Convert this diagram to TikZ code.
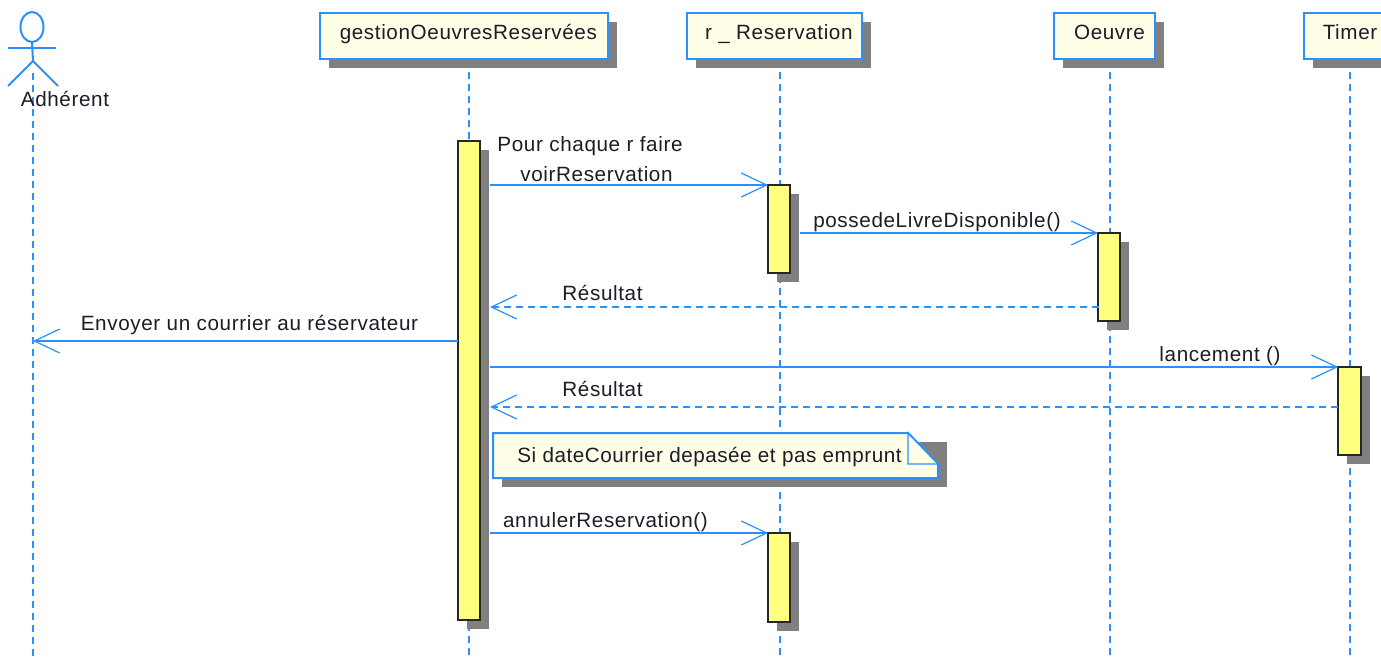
\documentclass[tikz,border=0pt]{standalone}
\usepackage{fontspec}
\setmainfont[LetterSpace=3]{Liberation Sans}
\usetikzlibrary{arrows.meta,shadows,shapes.geometric}
\definecolor{umlblue}{HTML}{2A90FF}
\definecolor{headfill}{HTML}{FFFFE8}
\definecolor{actfill}{HTML}{FFFF80}
\definecolor{shadowgrey}{HTML}{808080}
\definecolor{inkdark}{HTML}{1C1C28}
\newcommand\headtext[2]{\hspace*{#1}\raisebox{-2.6pt}[0pt][0pt]{#2}}
\tikzset{
  x=0.75pt,y=-0.75pt,
  anyshadow/.style={general shadow={shadow xshift=6.75pt,shadow yshift=-6.75pt,fill=shadowgrey}},
  head/.style={draw=umlblue,line width=1.5pt,fill=headfill,anyshadow,minimum height=34.5pt,inner sep=0pt,outer sep=0pt,text=inkdark,font=\fontsize{15.5}{17}\selectfont},
  act/.style={draw=black!85,line width=1.5pt,fill=actfill,anyshadow,minimum width=16.5pt,inner sep=0pt,outer sep=0pt},
  life/.style={draw=umlblue,line width=1.5pt,dash pattern=on 5pt off 4pt},
  msg/.style={draw=umlblue,line width=1.4pt,-{Straight Barb[length=19pt,width=18pt,line width=0.9pt]}},
  reply/.style={msg,dash pattern=on 5.5pt off 3.5pt},
  lbl/.style={text=inkdark,inner sep=0pt,font=\fontsize{15.5}{17}\selectfont},
  actorline/.style={draw=umlblue,line width=1.5pt}
}
\begin{document}
\begin{tikzpicture}
\useasboundingbox (0,0) rectangle (1381,660);
\clip (0,0) rectangle (1381,660);
% lifelines
\coordinate (aStart) at (33,73);   \coordinate (aEnd) at (33,657);
\coordinate (gStart) at (469,72);  \coordinate (gEnd) at (469,657);
\coordinate (rStart) at (780,72);  \coordinate (rEnd) at (780,657);
\coordinate (oStart) at (1110,72); \coordinate (oEnd) at (1110,657);
\coordinate (tStart) at (1350,72); \coordinate (tEnd) at (1350,657);
\draw[life] (aStart) -- (aEnd);
\draw[life] (gStart) -- (gEnd);
\draw[life] (rStart) -- (rEnd);
\draw[life] (oStart) -- (oEnd);
\draw[life] (tStart) -- (tEnd);
% actor
\node[draw=umlblue,line width=1.5pt,ellipse,minimum width=17.25pt,minimum height=22.5pt,inner sep=0pt,outer sep=0pt] (actorHead) at (32,27) {};
\coordinate (armL) at (8,48); \coordinate (armR) at (56,48);
\coordinate (hip) at (33,61); \coordinate (legL) at (8,86); \coordinate (legR) at (58,86);
\draw[actorline] (actorHead.south) -- (hip);
\draw[actorline] (armL) -- (armR);
\draw[actorline] (legL) -- (hip) -- (legR);
\node[lbl] (actorName) at (65,99) {Adhérent};
% heads
\node[head,minimum width=216pt] (gHead) at (464,36) {\headtext{6.5pt}{gestionOeuvresReservées}};
\node[head,minimum width=131.25pt] (rHead) at (774.5,36) {\headtext{6.5pt}{r \_ Reservation}};
\node[head,minimum width=75.75pt] (oHead) at (1104.5,36) {\headtext{7.5pt}{Oeuvre}};
\node[head,minimum width=69pt] (tHead) at (1350,36) {\headtext{0pt}{Timer}};
% activations
\node[act,minimum height=359.25pt] (gAct) at (469,380.5) {};
\node[act,minimum height=66pt] (rAct) at (779,229) {};
\node[act,minimum height=66pt] (oAct) at (1109,277) {};
\node[act,minimum height=66pt,minimum width=17pt] (tAct) at (1349.5,411) {};
\node[act,minimum height=66.75pt] (rAct2) at (779,577.5) {};
% note
\fill[shadowgrey] (502,442) rectangle (947,487);
\draw[draw=umlblue,line width=1.5pt,fill=headfill] (493,433) -- (908,433) -- (938,464) -- (938,478) -- (493,478) -- cycle;
\draw[draw=umlblue,line width=1.1pt,fill=headfill] (908,433) -- (908,464) -- (938,464) -- cycle;
\node[lbl] (noteText) at (709.5,457) {\addfontfeature{LetterSpace=2.5}Si dateCourrier depasée et pas emprunt};
% messages
\coordinate (m1) at (490,185);
\coordinate (m2) at (800,233);
\coordinate (m3) at (1099,307);  \coordinate (m3e) at (490,307);
\coordinate (m4) at (458,341);   \coordinate (m4e) at (33,341);
\coordinate (m5) at (490,367);
\coordinate (m6) at (1338,407);  \coordinate (m6e) at (490,407);
\coordinate (m7) at (490,533);
\draw[msg] (m1) -- (rAct.north west);
\draw[msg] (m2) -- (oAct.north west);
\draw[reply] (m3) -- (m3e);
\draw[msg] (m4) -- (m4e);
\draw[msg] (m5) -- (tAct.north west);
\draw[reply] (m6) -- (m6e);
\draw[msg] (m7) -- (rAct2.north west);
% labels
\node[lbl] (l0) at (590,146) {Pour chaque r faire};
\node[lbl] (l1) at (596.5,174) {voirReservation};
\node[lbl] (l2) at (937,222) {possedeLivreDisponible()};
\node[lbl] (l3) at (602.5,293) {Résultat};
\node[lbl] (l4) at (249.5,325) {Envoyer un courrier au réservateur};
\node[lbl] (l5) at (1220,356) {lancement ()};
\node[lbl] (l6) at (602.5,389) {Résultat};
\node[lbl] (l7) at (605.5,522) {annulerReservation()};
\end{tikzpicture}
\end{document}
